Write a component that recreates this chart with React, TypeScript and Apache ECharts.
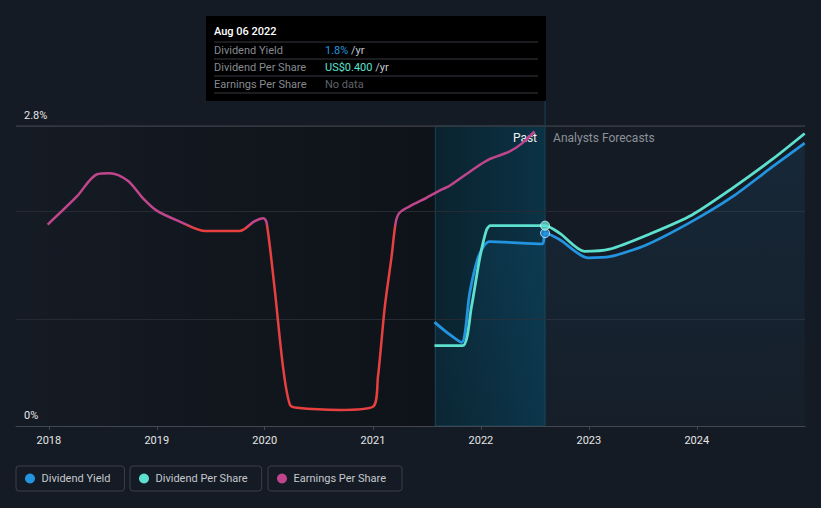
import React, { useEffect, useRef } from 'react';
import * as echarts from 'echarts';

const FONT = 'Roboto, "Open Sans", sans-serif';

// x-axis range and tick labels
const xMin = '2017-09-12';
const xMax = '2025-01-01';
const pastStart = '2021-07-31';
const today = '2022-08-06';
const yMax = 2.8;
const epsColorThreshold = 1.87;

// Dividend Yield (%)
const yieldDates = [
  '2021-07-28', '2021-09-10', '2021-10-28', '2021-11-24', '2021-12-20', '2022-01-13', '2022-01-30',
  '2022-07-28', '2022-08-06', '2022-09-24', '2022-12-28', '2023-03-12', '2023-07-14', '2023-12-16',
  '2024-05-01', '2024-09-13', '2024-12-31',
];
const yieldValues = [
  0.97, 0.87, 0.78, 1.24, 1.55, 1.69, 1.72,
  1.70, 1.80, 1.74, 1.57, 1.58, 1.69, 1.91,
  2.14, 2.42, 2.64,
];

// Dividend Per Share (plotted on the chart's scale)
const dpsDates = [
  '2021-07-28', '2021-10-31', '2021-11-30', '2021-12-27', '2022-01-20', '2022-02-02', '2022-08-06',
  '2022-09-24', '2022-12-17', '2023-03-12', '2023-07-24', '2023-12-16', '2024-05-01', '2024-09-13',
  '2024-12-31',
];
const dpsValues = [
  0.75, 0.75, 1.11, 1.55, 1.83, 1.87, 1.87,
  1.80, 1.63, 1.65, 1.79, 1.97, 2.22, 2.49,
  2.73,
];

// Earnings Per Share (plotted on the chart's scale)
const epsDates = [
  '2017-12-28', '2018-04-05', '2018-06-13', '2018-07-26', '2018-09-25', '2018-11-14', '2019-01-01',
  '2019-03-18', '2019-06-12', '2019-10-08', '2019-11-27', '2019-12-28', '2020-01-08', '2020-02-04',
  '2020-03-03', '2020-03-26', '2020-04-19', '2020-09-11', '2021-01-01', '2021-01-18', '2021-02-10',
  '2021-03-05', '2021-03-19', '2021-04-01', '2021-05-05', '2021-07-01', '2021-08-24', '2021-09-16',
  '2021-12-03', '2022-01-30', '2022-04-07', '2022-05-21', '2022-07-01',
];
const epsValues = [
  1.88, 2.14, 2.35, 2.36, 2.29, 2.13, 2.01,
  1.91, 1.82, 1.82, 1.91, 1.94, 1.89, 1.27,
  0.55, 0.20, 0.17, 0.15, 0.18, 0.46, 1.11,
  1.58, 1.90, 1.99, 2.05, 2.13, 2.21, 2.24,
  2.39, 2.49, 2.56, 2.64, 2.75,
];

const BLUE = '#2394df';
const TEAL = '#5ee0cf';
const PINK = '#c0458c';
const RED = '#e8403f';

const zip = (d: string[], v: number[]) => d.map((x, i) => [x, v[i]]);

export default function App() {
  const ref = useRef<HTMLDivElement>(null);
  useEffect(() => {
    if (!ref.current) return;
    const chart = echarts.init(ref.current, null, { renderer: 'svg' });
    const legendBase = {
      top: 466,
      orient: 'horizontal',
      icon: 'circle',
      itemWidth: 13,
      itemHeight: 10,
      padding: [7, 14, 7, 9],
      borderColor: '#3a3f48',
      borderWidth: 1,
      borderRadius: 3,
      selectedMode: false,
      textStyle: { color: '#c4c8cd', fontSize: 11, fontFamily: FONT },
    };
    chart.setOption({
      animation: false,
      backgroundColor: '#151b24',
      textStyle: { fontFamily: FONT },
      grid: { left: 16, right: 16, top: 126, bottom: 82 },
      legend: [
        { ...legendBase, left: 16, data: [{ name: 'Dividend Yield', itemStyle: { color: BLUE } }] },
        { ...legendBase, left: 130, data: [{ name: 'Dividend Per Share', itemStyle: { color: TEAL } }] },
        { ...legendBase, left: 268, padding: [7, 16, 7, 9], data: [{ name: 'Earnings Per Share', itemStyle: { color: PINK } }] },
      ],
      xAxis: {
        type: 'time',
        min: xMin,
        max: xMax,
        axisLine: { lineStyle: { color: '#424851', width: 1 } },
        axisTick: { show: true, length: 4, lineStyle: { color: '#424851' } },
        splitLine: { show: false },
        axisLabel: {
          color: '#e6e6e6',
          fontSize: 11,
          margin: 9,
          formatter: '{yyyy}',
        },
      },
      yAxis: {
        type: 'value',
        min: 0,
        max: yMax,
        interval: 1,
        axisLine: { show: false },
        axisTick: { show: false },
        splitLine: { lineStyle: { color: '#262b33' } },
        axisLabel: {
          inside: true,
          margin: 8,
          color: '#e6e6e6',
          fontSize: 11,
          verticalAlign: 'bottom',
          padding: [0, 0, 5, 0],
          formatter: (v: number) => (v === 0 ? '0%' : Math.abs(v - yMax) < 1e-9 ? '2.8%' : ''),
        },
      },
      series: [
        {
          name: 'Dividend Yield',
          type: 'line',
          data: zip(yieldDates, yieldValues),
          smooth: 0.25,
          showSymbol: false,
          lineStyle: { color: BLUE, width: 2.8 },
          itemStyle: { color: BLUE },
          areaStyle: {
            color: new echarts.graphic.LinearGradient(0, 0, 0, 1, [
              { offset: 0, color: 'rgba(35,148,223,0.15)' },
              { offset: 1, color: 'rgba(35,148,223,0.04)' },
            ]),
          },
          z: 3,
        },
        {
          name: 'Dividend Per Share',
          type: 'line',
          data: zip(dpsDates, dpsValues),
          smooth: 0.25,
          showSymbol: false,
          lineStyle: { color: TEAL, width: 2.8 },
          itemStyle: { color: TEAL },
          z: 4,
        },
        {
          name: 'Earnings Per Share',
          type: 'line',
          data: zip(epsDates, epsValues),
          smooth: 0.3,
          showSymbol: false,
          lineStyle: { width: 2.5, color: PINK },
          itemStyle: { color: PINK },
          z: 2,
        },
        {
          name: 'Yield today',
          type: 'scatter',
          data: [[today, yieldValues[yieldDates.indexOf(today)]]],
          symbol: 'circle',
          symbolSize: 9,
          itemStyle: { color: BLUE, borderColor: '#d8ecf8', borderWidth: 1 },
          z: 5,
          silent: true,
        },
        {
          name: 'DPS today',
          type: 'scatter',
          data: [[today, dpsValues[dpsDates.indexOf(today)]]],
          symbol: 'circle',
          symbolSize: 9,
          itemStyle: { color: TEAL, borderColor: '#e0fbf6', borderWidth: 1 },
          z: 6,
          silent: true,
        },
      ],
    });

    const px = (d: string) => chart.convertToPixel({ xAxisIndex: 0 }, +new Date(d)) as number;
    const py = (v: number) => chart.convertToPixel({ yAxisIndex: 0 }, v) as number;
    const x0 = px(xMin);
    const xEnd = px(xMax);
    const xPast = px(pastStart);
    const xToday = px(today);
    const top = py(yMax);
    const bottom = py(0);
    const thr = (py(epsColorThreshold) - top) / (bottom - top);
    const rowLabel = (text: string, y: number) => ({
      type: 'text',
      style: { text, x: 214, y, fill: '#868a90', fontSize: 11, fontFamily: FONT, verticalAlign: 'middle' },
    });
    const sep = (y: number) => ({
      type: 'line',
      shape: { x1: 214, y1: y, x2: 538, y2: y },
      style: { stroke: '#34383e', lineWidth: 1 },
    });
    chart.setOption({
      series: [
        {},
        {},
        {
          lineStyle: {
            color: new echarts.graphic.LinearGradient(0, top, 0, bottom, [
              { offset: 0, color: PINK },
              { offset: thr - 0.008, color: PINK },
              { offset: thr + 0.008, color: RED },
              { offset: 1, color: RED },
            ], true),
          },
        },
      ],
      graphic: [
        {
          type: 'rect',
          z: -1,
          silent: true,
          shape: { x: x0, y: top, width: xPast - x0, height: bottom - top },
          style: {
            fill: new echarts.graphic.LinearGradient(0, 0, 1, 0, [
              { offset: 0, color: 'rgba(0,0,0,0)' },
              { offset: 1, color: 'rgba(0,0,0,0.32)' },
            ]),
          },
        },
        {
          type: 'rect',
          z: -1,
          silent: true,
          shape: { x: xPast, y: top, width: xToday - xPast, height: bottom - top },
          style: {
            fill: new echarts.graphic.LinearGradient(0, 0, 1, 0, [
              { offset: 0, color: 'rgba(9,36,48,0.85)' },
              { offset: 1, color: 'rgba(9,55,76,0.85)' },
            ]),
            stroke: '#1b4356',
            lineWidth: 1,
          },
        },
        {
          type: 'line',
          shape: { x1: x0, y1: top, x2: xEnd, y2: top },
          style: { stroke: '#3e434c', lineWidth: 1 },
        },
        {
          type: 'line',
          shape: { x1: xToday, y1: 101, x2: xToday, y2: top },
          style: { stroke: '#1b4356', lineWidth: 1 },
        },
        { type: 'rect', shape: { x: 206, y: 16, width: 340, height: 85 }, style: { fill: '#000' } },
        {
          type: 'text',
          style: { text: 'Aug 06 2022', x: 214, y: 31, fill: '#ffffff', fontSize: 11, fontWeight: 500, fontFamily: FONT, verticalAlign: 'middle' },
        },
        sep(42), sep(59), sep(76), sep(93),
        rowLabel('Dividend Yield', 50),
        rowLabel('Dividend Per Share', 67),
        rowLabel('Earnings Per Share', 84),
        {
          type: 'text',
          style: {
            text: '{b|1.8%} {w|/yr}', x: 325, y: 50, verticalAlign: 'middle', fontSize: 11, fontFamily: FONT,
            rich: { b: { fill: BLUE, fontSize: 11, fontFamily: FONT }, w: { fill: '#c4c8cd', fontSize: 11, fontFamily: FONT } },
          },
        },
        {
          type: 'text',
          style: {
            text: '{b|US$0.400} {w|/yr}', x: 325, y: 67, verticalAlign: 'middle', fontSize: 11, fontFamily: FONT,
            rich: { b: { fill: TEAL, fontSize: 11, fontFamily: FONT }, w: { fill: '#c4c8cd', fontSize: 11, fontFamily: FONT } },
          },
        },
        {
          type: 'text',
          style: { text: 'No data', x: 325, y: 84, fill: '#5f6369', fontSize: 11, fontFamily: FONT, verticalAlign: 'middle' },
        },
        {
          type: 'text',
          style: { text: 'Past', x: xToday - 8, y: 138, fill: '#f0f0f0', fontSize: 12, fontFamily: FONT, align: 'right', verticalAlign: 'middle' },
        },
        {
          type: 'text',
          style: { text: 'Analysts Forecasts', x: xToday + 8, y: 138, fill: '#8b9199', fontSize: 12, fontFamily: FONT, align: 'left', verticalAlign: 'middle' },
        },
      ],
    });
    return () => chart.dispose();
  }, []);
  return <div ref={ref} style={{ position: 'fixed', left: 0, top: 0, width: 821, height: 508 }} />;
}
